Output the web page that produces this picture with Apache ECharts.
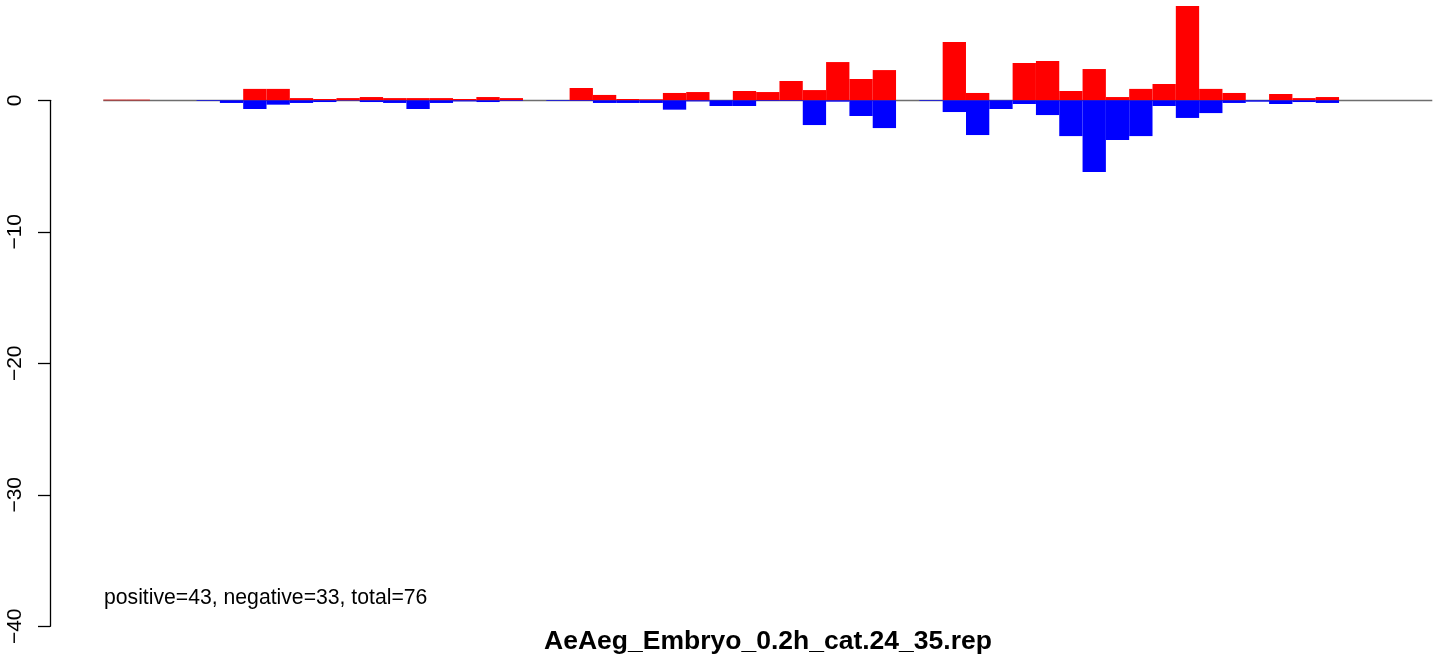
<!DOCTYPE html>
<html>
<head>
<meta charset="utf-8">
<script src="https://cdn.jsdelivr.net/npm/echarts@6/dist/echarts.min.js"></script>
<style>
html,body{margin:0;padding:0;background:#fff;}
#chart{width:1444px;height:656px;}
</style>
</head>
<body>
<div id="chart"></div>
<script>
// ---- data ----
const categories = Array.from({length: 57}, (_, i) => String(i + 1));
const positiveValues = [
  0.05, 0.05, 0, 0, 0, 0, 0.87, 0.87, 0.17, 0.1,
  0.17, 0.25, 0.17, 0.17, 0.17, 0.1, 0.25, 0.17, 0, 0,
  0.94, 0.41, 0.1, 0.08, 0.56, 0.63, 0, 0.71, 0.63, 1.47,
  0.78, 2.91, 1.62, 2.3, 0, 0, 4.44, 0.56, 0, 2.84,
  2.99, 0.71, 2.38, 0.25, 0.87, 1.24, 7.17, 0.87, 0.56, 0,
  0.48, 0.17, 0.25, 0, 0, 0, 0
];
const negativeValues = [
  0, 0, 0, 0, -0.05, -0.2, -0.66, -0.33, -0.2, -0.13,
  -0.03, -0.13, -0.2, -0.66, -0.2, -0.08, -0.13, -0.05, 0, -0.05,
  -0.05, -0.2, -0.2, -0.2, -0.71, -0.08, -0.43, -0.43, -0.05, -0.05,
  -1.88, -0.1, -1.19, -2.11, 0, -0.05, -0.89, -2.64, -0.66, -0.28,
  -1.12, -2.72, -5.45, -3.02, -2.72, -0.43, -1.34, -0.97, -0.2, -0.1,
  -0.28, -0.13, -0.2, 0, 0, 0, 0
];
const yTicks = [0, -10, -20, -30, -40];
const titleText = 'AeAeg_Embryo_0.2h_cat.24_35.rep';
const noteText = 'positive=43, negative=33, total=76';

const FONT = '"Liberation Sans", Arial, Helvetica, sans-serif';

const chart = echarts.init(document.getElementById('chart'), null, {renderer: 'canvas'});
chart.setOption({
  animation: false,
  backgroundColor: '#ffffff',
  grid: [
    {left: 103.3, right: 11.7, top: 0, bottom: 29.7, containLabel: false},
    {left: 50, right: 1393, top: 100.3, bottom: 29.7, containLabel: false}
  ],
  xAxis: [
    {type: 'category', gridIndex: 0, data: categories, show: false, boundaryGap: true},
    {type: 'value', gridIndex: 1, show: false}
  ],
  yAxis: [
    {type: 'value', gridIndex: 0, min: -40, max: 7.63, show: false, splitLine: {show: false}},
    {
      type: 'value', gridIndex: 1, min: -40, max: 0, interval: 10,
      axisLine: {show: true, lineStyle: {color: '#000', width: 1.3}},
      axisTick: {show: true, length: 12, lineStyle: {color: '#000', width: 1.3}},
      axisLabel: {
        show: true, rotate: 90, margin: 24, fontSize: 21, color: '#000', fontFamily: FONT,
        customValues: yTicks,
        formatter: v => (v < 0 ? '\u2212' + Math.abs(v) : String(v))
      },
      splitLine: {show: false}
    }
  ],
  title: [
    {text: titleText, left: 768, top: 628, textAlign: 'center',
     textStyle: {fontSize: 26.5, fontWeight: 'bold', color: '#000', fontFamily: FONT}, padding: 0},
    {text: noteText, left: 104, top: 588,
     textStyle: {fontSize: 21.2, fontWeight: 'normal', color: '#000', fontFamily: FONT}, padding: 0}
  ],
  series: [
    {
      type: 'line', xAxisIndex: 0, yAxisIndex: 0, data: [], z: 0, silent: true,
      markLine: {
        silent: true, symbol: 'none', z: 0, animation: false,
        label: {show: false},
        lineStyle: {color: '#6e6e6e', width: 1.4, type: 'solid'},
        data: [{yAxis: 0}]
      }
    },
    {
      name: 'positive', type: 'bar', xAxisIndex: 0, yAxisIndex: 0, data: positiveValues,
      barWidth: '100%', barGap: '-100%', itemStyle: {color: '#ff0000'}, z: 2
    },
    {
      name: 'negative', type: 'bar', xAxisIndex: 0, yAxisIndex: 0, data: negativeValues,
      barWidth: '100%', barGap: '-100%', itemStyle: {color: '#0000ff'}, z: 3
    }
  ]
});
</script>
</body>
</html>
